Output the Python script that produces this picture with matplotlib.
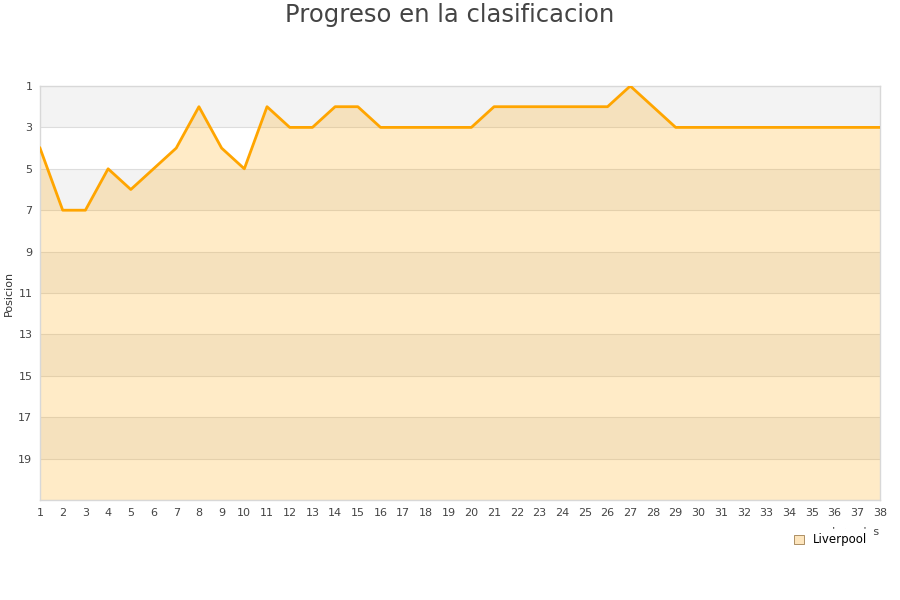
import matplotlib
matplotlib.use("Agg")
import matplotlib.pyplot as plt
from matplotlib.patches import Patch

jornadas = list(range(1, 39))
posiciones = [4, 7, 7, 5, 6, 5, 4, 2, 4, 5,
              2, 3, 3, 2, 2, 3, 3, 3, 3, 3,
              2, 2, 2, 2, 2, 2, 1, 2, 3, 3,
              3, 3, 3, 3, 3, 3, 3, 3]
y_ticks = [1, 3, 5, 7, 9, 11, 13, 15, 17, 19]
team = "Liverpool"

fig = plt.figure(figsize=(9, 6), dpi=100)
ax = fig.add_axes([40/900, 100/600, 840/900, 414/600])

ymin, ymax = 1, 21
# alternating bands
for i, y0 in enumerate(range(ymin, ymax, 2)):
    col = "#f3f3f3" if i % 2 == 0 else "#ffffff"
    ax.axhspan(y0, y0 + 2, color=col, zorder=0, lw=0)
for y in y_ticks[1:] + [21]:
    ax.axhline(y, color="#dddddd", lw=0.8, zorder=1)

ax.fill_between(jornadas, posiciones, ymax, color="#ffa500", alpha=0.22, lw=0, zorder=2)
ax.plot(jornadas, posiciones, color="#ffa500", lw=2.0, zorder=3)

ax.set_xlim(1, 38)
ax.set_ylim(ymax, ymin)
ax.set_xticks(jornadas)
ax.set_xticklabels([str(j) for j in jornadas])
ax.set_yticks(y_ticks)
ax.tick_params(axis="both", length=0, labelsize=8, colors="#444444", pad=6)
ax.tick_params(axis="y", pad=5.5)
for s in ax.spines.values():
    s.set_color("#d8d8d8")
    s.set_linewidth(1)
ax.set_ylabel("Posicion", fontsize=8, color="#333333", labelpad=3)

fig.text(0.5, 0.995, "Progreso en la clasificacion", ha="center", va="top",
         fontsize=17.5, color="#444444")

fig.text(880/900, 1 - 532/600, "Jornadas", ha="right", va="center", fontsize=8,
         color="#444444", zorder=2)

leg = fig.legend(handles=[Patch(facecolor="#fde5bd", edgecolor="#a08050", lw=0.6, label=team)],
                 loc="center right", bbox_to_anchor=(872/900, 1 - 540/600),
                 frameon=True, fontsize=8.5, handlelength=0.8, handleheight=0.8,
                 handletextpad=0.8, borderpad=0.4, borderaxespad=0)
leg.get_frame().set_facecolor("white")
leg.get_frame().set_edgecolor("white")
leg.get_frame().set_alpha(1)
leg.set_zorder(10)

fig.savefig("out.png", dpi=100)
